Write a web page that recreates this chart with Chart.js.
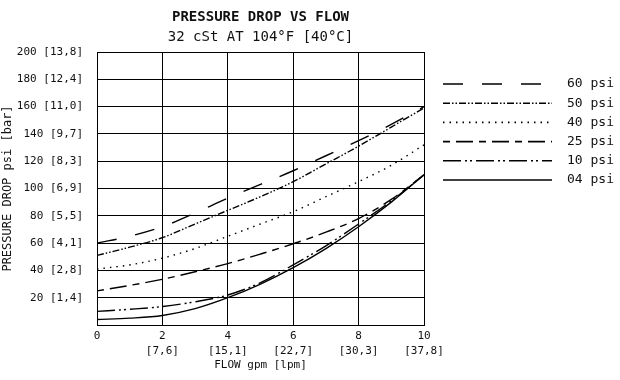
<!DOCTYPE html>
<html><head><meta charset="utf-8">
<script src="https://cdn.jsdelivr.net/npm/chart.js@4.4.1/dist/chart.umd.min.js"></script>
<style>html,body{margin:0;padding:0;background:#fff}</style>
</head><body>
<canvas id="c" width="620" height="380"></canvas>
<script>
// ---- data ----
const flowGpm = [0, 1, 2, 3, 4, 5, 6, 7, 8, 9, 10];
const psi60 = [60, 65, 72, 82, 93, 103, 113, 124, 135, 147, 160];
const psi50 = [51, 57, 64, 74, 84, 94, 105, 118, 131, 145, 159];
const psi40 = [41, 44, 49, 56, 65, 74, 83, 94, 105, 117, 132];
const psi25 = [25, 29, 33.5, 39, 45, 52, 59.5, 68, 78, 92, 110];
const psi10 = [10, 11.5, 13.5, 17, 22, 31, 44, 58, 74, 91, 110];
const psi04 = [4, 5, 7, 12, 20, 30, 42, 56, 72, 90, 110];
const seriesLabels = ['60 psi', '50 psi', '40 psi', '25 psi', '10 psi', '04 psi'];
const xTickValues = [0, 2, 4, 6, 8, 10];
const xTickLpm = ['', '[7,6]', '[15,1]', '[22,7]', '[30,3]', '[37,8]'];
const yTickValues = [20, 40, 60, 80, 100, 120, 140, 160, 180, 200];
const yTickBar = ['[1,4]', '[2,8]', '[4,1]', '[5,5]', '[6,9]', '[8,3]', '[9,7]', '[11,0]', '[12,4]', '[13,8]'];
const titleText = 'PRESSURE DROP VS FLOW';
const subtitleText = '32 cSt AT 104°F [40°C]';
const xTitle = 'FLOW gpm [lpm]';
const yTitle = 'PRESSURE DROP psi [bar]';

const FONT = '"DejaVu Sans Mono", "Liberation Mono", monospace';
const seriesValues = [psi60, psi50, psi40, psi25, psi10, psi04];
const dashes = [[20, 19], [7, 2, 1.5, 2, 1.5, 2], [1.5, 5], [7, 6, 17, 6], [18, 4, 2, 3, 2, 4], []];

const datasets = seriesValues.map((vals, i) => ({
  label: seriesLabels[i],
  data: flowGpm.map((x, j) => ({x: x, y: vals[j]})),
  borderColor: '#000',
  borderWidth: 1.4,
  borderDash: dashes[i],
  pointRadius: 0,
  fill: false,
  cubicInterpolationMode: 'monotone'
}));

const headerLegend = {
  id: 'headerLegend',
  afterDraw(chart) {
    const ctx = chart.ctx, a = chart.chartArea;
    ctx.save();
    ctx.fillStyle = '#111';
    ctx.textAlign = 'center';
    ctx.textBaseline = 'middle';
    const cx = (a.left + a.right) / 2;
    ctx.font = 'bold 14px ' + FONT;
    ctx.fillText(titleText, cx, 17);
    ctx.font = '14px ' + FONT;
    ctx.fillText(subtitleText, cx, 37);
    // legend
    chart.data.datasets.forEach((ds, i) => {
      const y = 84 + i * 19.2;
      ctx.strokeStyle = '#000';
      ctx.lineWidth = 1.6;
      ctx.setLineDash(ds.borderDash || []);
      ctx.beginPath();
      ctx.moveTo(443, y);
      ctx.lineTo(552, y);
      ctx.stroke();
      ctx.setLineDash([]);
      ctx.font = '13px ' + FONT;
      ctx.textAlign = 'left';
      ctx.fillText(ds.label, 567, y);
    });
    ctx.restore();
  }
};

new Chart(document.getElementById('c'), {
  type: 'line',
  data: { datasets },
  options: {
    responsive: false,
    animation: false,
    devicePixelRatio: 1,
    layout: { padding: { top: 52, right: 196, left: 0, bottom: 0 } },
    plugins: { legend: { display: false }, tooltip: { enabled: false }, title: { display: false } },
    scales: {
      x: {
        type: 'linear', min: 0, max: 10,
        afterFit(s) { s.height = 55; },
        afterBuildTicks(s) { s.ticks = xTickValues.map(v => ({value: v})); },
        ticks: {
          color: '#111', padding: 4, maxRotation: 0, autoSkip: false,
          font: { family: FONT, size: 11, lineHeight: 1.35 },
          callback(v) { const i = xTickValues.indexOf(v); return i <= 0 ? String(v) : [String(v), xTickLpm[i]]; }
        },
        grid: { color: '#000', lineWidth: 1, drawTicks: false },
        border: { color: '#000', width: 1 },
        title: { display: true, text: xTitle, color: '#111', font: { family: FONT, size: 11 }, padding: { top: 0, bottom: 8 } }
      },
      y: {
        type: 'linear', min: 0, max: 200,
        afterFit(s) { s.width = 97; },
        afterBuildTicks(s) { s.ticks = [{value: 0}].concat(yTickValues.map(v => ({value: v}))); },
        ticks: {
          color: '#111', padding: 14, autoSkip: false,
          font: { family: FONT, size: 11 },
          callback(v) { const i = yTickValues.indexOf(v); return i < 0 ? '' : v + ' ' + yTickBar[i]; }
        },
        grid: { color: '#000', lineWidth: 1, drawTicks: false },
        border: { color: '#000', width: 1 },
        title: { display: true, text: yTitle, color: '#111', font: { family: FONT, size: 12 }, padding: { top: 1, bottom: 0 } }
      }
    }
  },
  plugins: [headerLegend]
});
</script>
</body></html>
